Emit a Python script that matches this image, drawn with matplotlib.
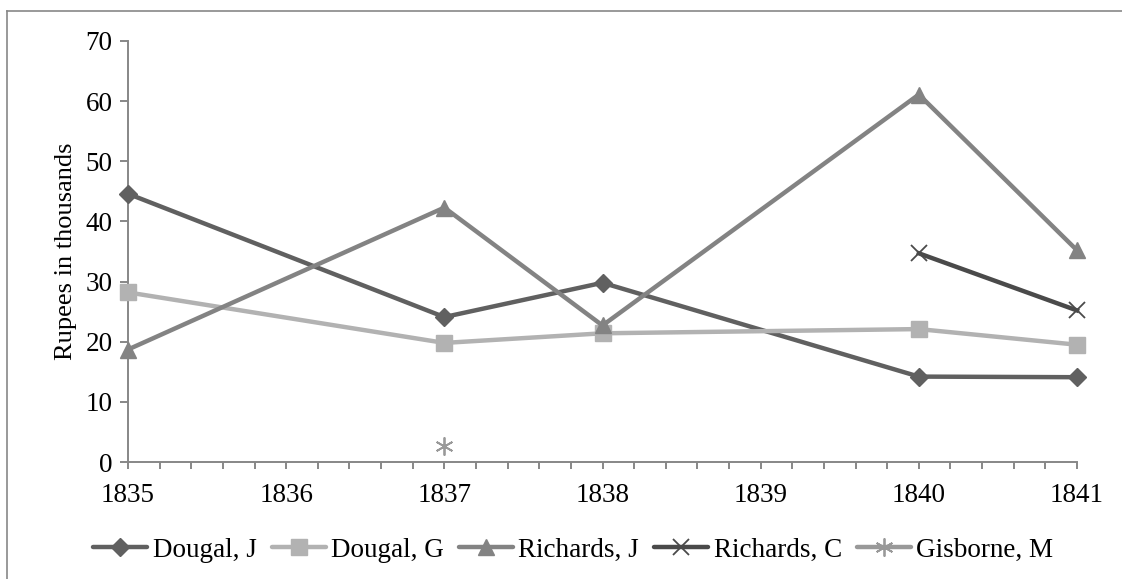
import matplotlib
matplotlib.use('Agg')
import matplotlib.pyplot as plt
from matplotlib.lines import Line2D
from matplotlib.ticker import MultipleLocator

# values (thousands of rupees)
years_main = [1835, 1837, 1838, 1840, 1841]
dougal_j = [44.6, 24.1, 29.8, 14.2, 14.1]
dougal_g = [28.2, 19.8, 21.4, 22.1, 19.5]
richards_j = [18.7, 42.3, 22.7, 61.1, 35.2]
years_rc = [1840, 1841]
richards_c = [34.7, 25.2]
years_gm = [1837]
gisborne_m = [2.6]

AXIS = '#878787'
FS = 19.5
plt.rcParams.update({'font.family': ['Liberation Serif', 'DejaVu Serif'],
                     'font.size': FS})

fig = plt.figure(figsize=(11.22, 5.79), dpi=100)
ax = fig.add_axes([128 / 1122, 1 - 462 / 579, (1077 - 128) / 1122, (462 - 41) / 579])

lw = 3.2
ax.plot(years_main, dougal_j, color='#606060', lw=lw, marker='D', ms=9,
        label='Dougal, J', zorder=3)
ax.plot(years_main, dougal_g, color='#b2b2b2', lw=lw, marker='s', ms=11,
        label='Dougal, G', zorder=3)
ax.plot(years_main, richards_j, color='#838383', lw=lw, marker='^', ms=12,
        label='Richards, J', zorder=3)
ax.plot(years_rc, richards_c, color='#4a4a4a', lw=lw, marker='x', ms=11, mew=1.3,
        label='Richards, C', zorder=4)
ax.plot(years_gm, gisborne_m, color='#999999', lw=lw, marker=(6, 2, 0), ms=13, mew=1.3,
        label='Gisborne, M', zorder=4)

ax.set_xlim(1835, 1841)
ax.set_ylim(0, 70)
ax.set_yticks(range(0, 71, 10))
ax.set_xticks(range(1835, 1842))
ax.xaxis.set_minor_locator(MultipleLocator(0.2))
ax.set_ylabel('Rupees in thousands', fontsize=19, labelpad=6)

for s in ('top', 'right'):
    ax.spines[s].set_visible(False)
for s in ('left', 'bottom'):
    ax.spines[s].set_color(AXIS)
    ax.spines[s].set_linewidth(1.4)
ax.tick_params(axis='y', direction='out', length=6, width=1.4, color=AXIS, pad=5)
ax.tick_params(axis='x', which='major', direction='out', length=5, width=1.4,
               color=AXIS, pad=10)
ax.tick_params(axis='x', which='minor', direction='out', length=5, width=1.4,
               color=AXIS)
for sp in ax.spines.values():
    sp.set_clip_on(False)
for ln in ax.lines:
    ln.set_clip_on(False)

# outer chart frame (only top and left edges fall inside the image)
fig.add_artist(Line2D([7 / 1122, 1], [1 - 11 / 579, 1 - 11 / 579], color=AXIS, lw=1.2))
fig.add_artist(Line2D([7 / 1122, 7 / 1122], [0, 1 - 11 / 579], color=AXIS, lw=1.2))

handles, labels = ax.get_legend_handles_labels()
leg = fig.legend(handles, labels, loc='center', bbox_to_anchor=(0.511, 0.050),
                 ncol=5, frameon=False, handlelength=2.0, handletextpad=0.2,
                 columnspacing=0.55, fontsize=FS)
for h in leg.legend_handles:
    h.set_solid_capstyle('round')

fig.savefig('out.png', dpi=100)
